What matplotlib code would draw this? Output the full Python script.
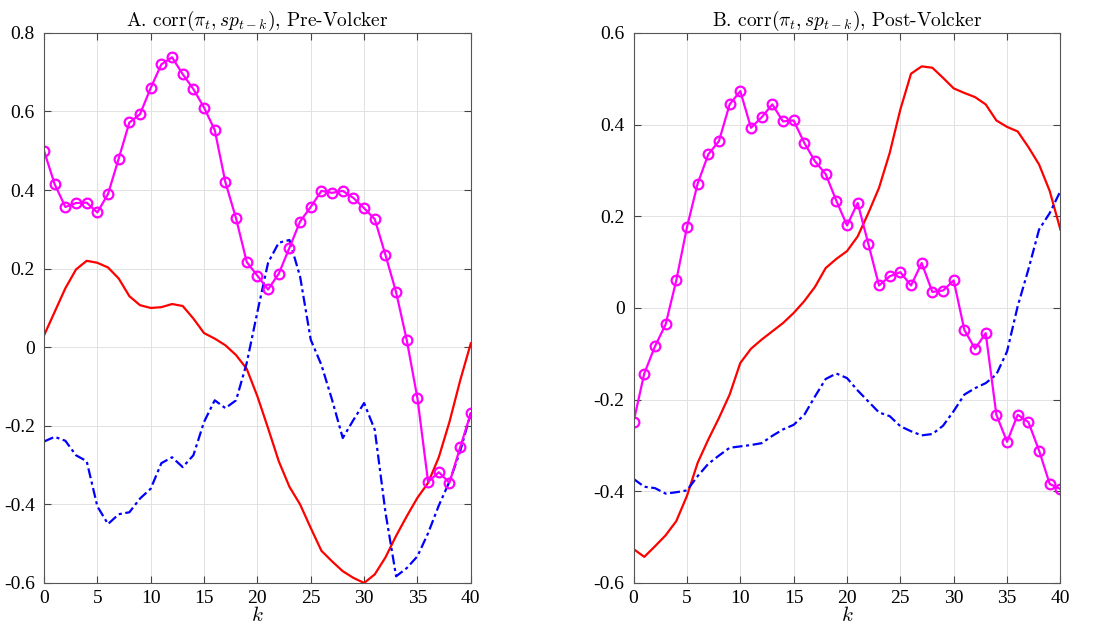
import numpy as np
import matplotlib
matplotlib.use("Agg")
import matplotlib.pyplot as plt
from matplotlib.ticker import FuncFormatter

plt.rcParams['font.family'] = ['Liberation Serif', 'DejaVu Serif']
plt.rcParams['mathtext.fontset'] = 'cm'
plt.rcParams['axes.unicode_minus'] = False

# lags
k = np.arange(0, 41)

# Panel A: Pre-Volcker
pre_magenta = [0.50, 0.415, 0.357, 0.367, 0.368, 0.343, 0.39, 0.48, 0.572, 0.593,
               0.66, 0.72, 0.738, 0.695, 0.657, 0.61, 0.553, 0.42, 0.328, 0.217,
               0.182, 0.147, 0.187, 0.253, 0.32, 0.357, 0.398, 0.393, 0.398, 0.38,
               0.354, 0.326, 0.235, 0.14, 0.018, -0.13, -0.343, -0.318, -0.345, -0.255,
               -0.168]
pre_red = [0.03, 0.09, 0.15, 0.198, 0.22, 0.215, 0.203, 0.175, 0.13, 0.107,
           0.10, 0.102, 0.11, 0.105, 0.073, 0.036, 0.022, 0.005, -0.02, -0.055,
           -0.125, -0.206, -0.29, -0.355, -0.40, -0.46, -0.518, -0.545, -0.57, -0.587,
           -0.60, -0.578, -0.535, -0.48, -0.43, -0.383, -0.345, -0.28, -0.19, -0.085,
           0.01]
pre_blue = [-0.24, -0.228, -0.238, -0.275, -0.29, -0.405, -0.45, -0.425, -0.42, -0.385,
            -0.36, -0.295, -0.28, -0.305, -0.275, -0.19, -0.135, -0.155, -0.135, -0.04,
            0.09, 0.215, 0.266, 0.273, 0.18, 0.019, -0.045, -0.134, -0.231, -0.185,
            -0.142, -0.21, -0.42, -0.583, -0.562, -0.532, -0.473, -0.403, -0.342, -0.265,
            -0.168]

# Panel B: Post-Volcker
post_magenta = [-0.248, -0.143, -0.084, -0.036, 0.06, 0.176, 0.271, 0.335, 0.364, 0.444,
                0.473, 0.393, 0.416, 0.444, 0.407, 0.409, 0.36, 0.32, 0.292, 0.234,
                0.18, 0.229, 0.14, 0.049, 0.069, 0.078, 0.049, 0.098, 0.035, 0.038,
                0.06, -0.048, -0.089, -0.055, -0.233, -0.292, -0.233, -0.249, -0.311, -0.384,
                -0.395]
post_red = [-0.526, -0.543, -0.52, -0.496, -0.465, -0.41, -0.338, -0.287, -0.24, -0.189,
            -0.12, -0.089, -0.069, -0.051, -0.033, -0.011, 0.015, 0.046, 0.087, 0.107,
            0.124, 0.156, 0.207, 0.262, 0.338, 0.433, 0.511, 0.527, 0.524, 0.502,
            0.479, 0.469, 0.46, 0.444, 0.409, 0.395, 0.385, 0.351, 0.313, 0.255,
            0.171]
post_blue = [-0.373, -0.39, -0.393, -0.405, -0.402, -0.398, -0.367, -0.34, -0.322, -0.305,
             -0.302, -0.299, -0.295, -0.279, -0.265, -0.255, -0.233, -0.193, -0.155, -0.143,
             -0.153, -0.18, -0.204, -0.228, -0.236, -0.258, -0.269, -0.278, -0.275, -0.257,
             -0.225, -0.189, -0.175, -0.164, -0.145, -0.095, 0.004, 0.084, 0.171, 0.207,
             0.255]

titles = [r"A. corr$(\pi_t, sp_{t-k})$, Pre-Volcker",
          r"B. corr$(\pi_t, sp_{t-k})$, Post-Volcker"]
ylims = [(-0.6, 0.8), (-0.6, 0.6)]
yticks = [np.arange(-0.6, 0.81, 0.2), np.arange(-0.6, 0.61, 0.2)]

fig = plt.figure(figsize=(11, 6.33), dpi=100)
ax1 = fig.add_axes([0.040, 0.079, 0.388, 0.869])
ax2 = fig.add_axes([0.576, 0.079, 0.388, 0.869])

dashdot = (0, (4.5, 1.6, 1.4, 1.6))
fmt = FuncFormatter(lambda v, p: "0" if abs(v) < 1e-9 else ("%g" % round(v, 1)))

panels = [(ax1, pre_magenta, pre_red, pre_blue), (ax2, post_magenta, post_red, post_blue)]
for i, (ax, mag, red, blue) in enumerate(panels):
    ax.plot(k, red, color="#ff0000", lw=1.6)
    ax.plot(k, blue, color="#0000ff", lw=1.6, linestyle=dashdot)
    ax.plot(k, mag, color="#ff00ff", lw=1.6, marker="o", markersize=7,
            markerfacecolor="none", markeredgewidth=1.6)
    ax.set_xlim(0, 40)
    ax.set_ylim(*ylims[i])
    ax.set_xticks(np.arange(0, 41, 5))
    ax.set_yticks(yticks[i])
    ax.yaxis.set_major_formatter(fmt)
    ax.grid(True, color="#e2e2e2", lw=0.7)
    ax.set_axisbelow(True)
    ax.tick_params(direction="in", top=True, right=True, labelsize=14,
                   color="#444444", length=5)
    ax.tick_params(axis="y", pad=6.5)
    ax.tick_params(axis="x", pad=5)
    for s in ax.spines.values():
        s.set_color("#555555")
        s.set_linewidth(0.8)
    ax.set_title(titles[i], fontsize=14, family="cmr10", pad=5)
    ax.set_xlabel(r"$k$", fontsize=15, labelpad=0)

fig.savefig("out.png", dpi=100)
